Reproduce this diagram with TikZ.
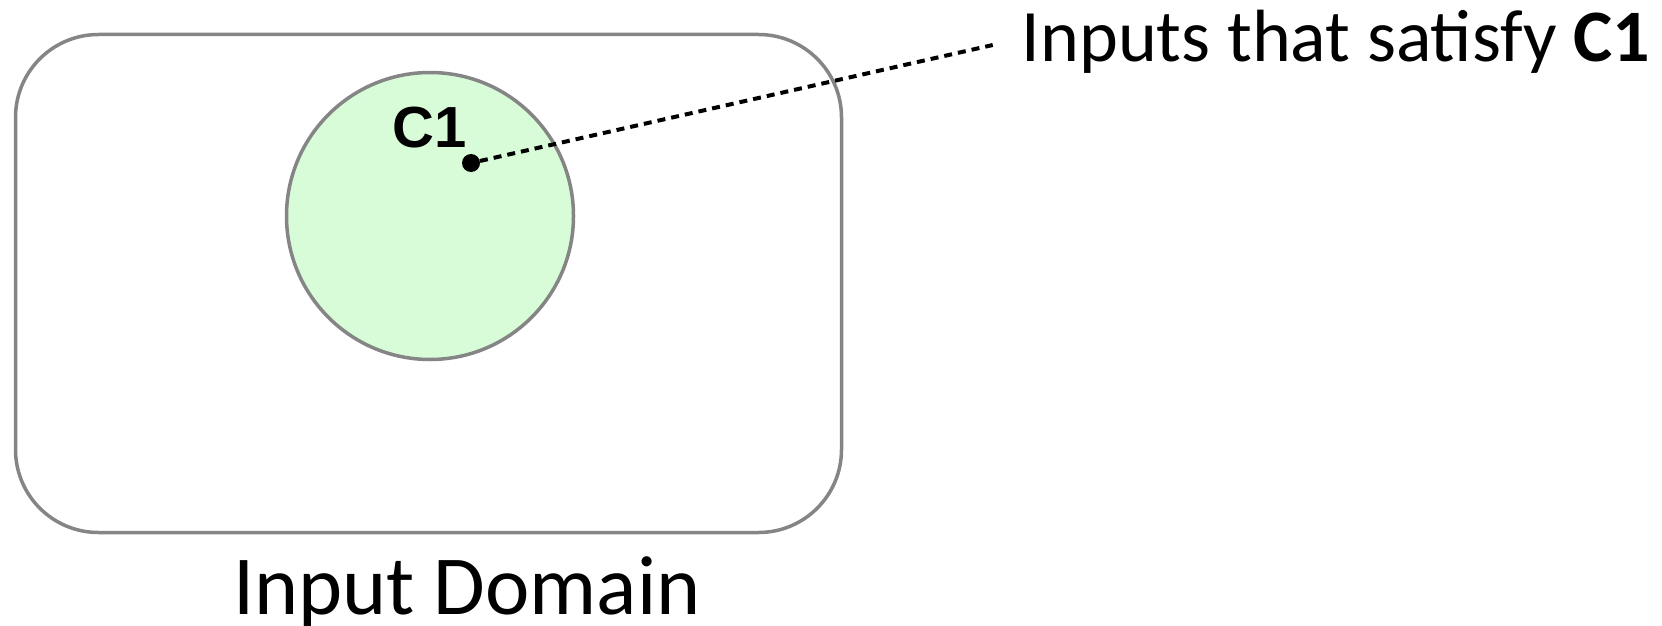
\documentclass[tikz,border=0pt]{standalone}
\usepackage{fontspec}
\setmainfont{Carlito}
\newfontfamily\arialfont{Liberation Sans}
\definecolor{edgegray}{HTML}{858585}
\definecolor{setgreen}{HTML}{D8FCD8}
\begin{document}
\begin{tikzpicture}[x=1pt,y=-1pt,
    region/.style={draw=edgegray,line width=3.5pt},
    bigtext/.style={anchor=base,font=\fontsize{#1}{#1}\selectfont}]
    \useasboundingbox (0,0) rectangle (1662,626);
    % the whole input space and the subset for C1
    \node[region,rounded corners=83pt,minimum width=826pt,minimum height=498pt] at (428.5,283.5)(domain){};
    \node[region,fill=setgreen,circle,minimum size=287pt] at (430,216)(c1set){};
    \node[anchor=base,font=\arialfont\bfseries\fontsize{58}{58}\selectfont] at (430,147)(c1name){C1};
    \node[circle,fill=black,minimum size=18pt,inner sep=0pt] at (471,163)(pt){};
    \node[bigtext=74] at (1336,62)(satlabel){Inputs that satisfy \textbf{C1}};
    \path[draw,dash pattern=on 8pt off 6pt,line width=4pt,shorten >=26pt] (pt) -- ([yshift=3pt]satlabel.west);
    \node[bigtext=84] at (467,614)(domlabel){Input Domain};
\end{tikzpicture}
\end{document}
